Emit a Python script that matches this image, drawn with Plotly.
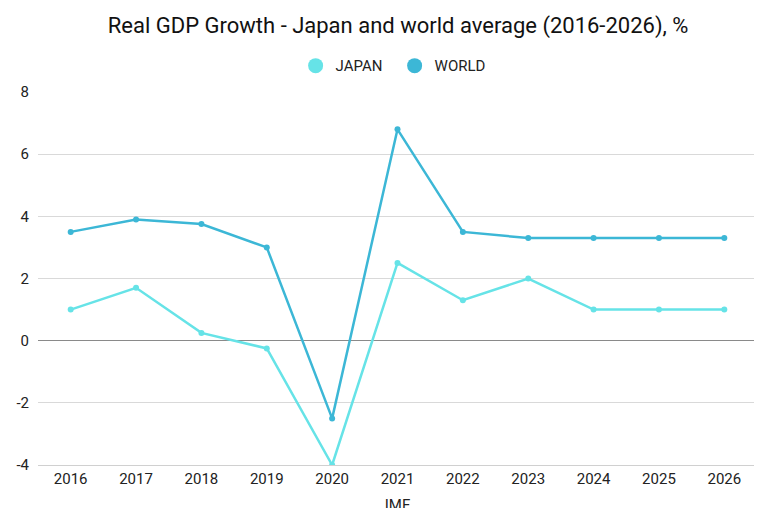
import plotly.graph_objects as go

years = ["2016", "2017", "2018", "2019", "2020", "2021", "2022", "2023", "2024", "2025", "2026"]
japan = [1.0, 1.7, 0.25, -0.25, -4.0, 2.5, 1.3, 2.0, 1.0, 1.0, 1.0]
world = [3.5, 3.9, 3.75, 3.0, -2.5, 6.8, 3.5, 3.3, 3.3, 3.3, 3.3]
y_ticks = [-4, -2, 0, 2, 4, 6, 8]
y_tick_labels = ["-4", "-2", "0", "2", "4", "6", "8"]
series_names = ["JAPAN", "WORLD"]
colors = ["#66e3e7", "#3cb7d6"]

fig = go.Figure()
for name, vals, col in zip(series_names, [japan, world], colors):
    fig.add_trace(go.Scatter(x=years, y=vals, mode="lines+markers", name=name,
                             line=dict(color=col, width=2.5),
                             marker=dict(color=col, size=6),
                             showlegend=False))
for name, col in zip(series_names, colors):
    fig.add_trace(go.Scatter(x=[None], y=[None], mode="markers", name=name,
                             marker=dict(color=col, size=15)))

fig.update_layout(
    width=762, height=508,
    margin=dict(l=30, r=13, t=84, b=51, autoexpand=False),
    paper_bgcolor="white", plot_bgcolor="white",
    font=dict(family="Roboto", size=15, color="#222"),
    title=dict(text="Real GDP Growth - Japan and world average (2016-2026), %",
               x=0.512, xanchor="center", y=1 - 17 / 508, yanchor="middle",
               yref="container", font=dict(size=22, color="#111")),
    legend=dict(orientation="h", x=0.496, xanchor="center", y=1.07, yanchor="middle",
                font=dict(size=15, color="#222"), itemwidth=30,
                entrywidth=54, entrywidthmode="pixels"),
    xaxis=dict(type="category", range=[-0.5, 10.5], showgrid=False, automargin=False,
               showline=True, linecolor="#d0d0d0", linewidth=1,
               ticks="", title=dict(text="IMF", font=dict(size=15), standoff=12)),
    yaxis=dict(range=[-4, 8], tickvals=y_ticks, ticktext=y_tick_labels,
               showgrid=True, gridcolor="#d9d9d9", automargin=False,
               zeroline=True, zerolinecolor="#8a8a8a", zerolinewidth=1,
               ticks="", ticklabelstandoff=8, fixedrange=True),
)
fig.write_html("out.html")
